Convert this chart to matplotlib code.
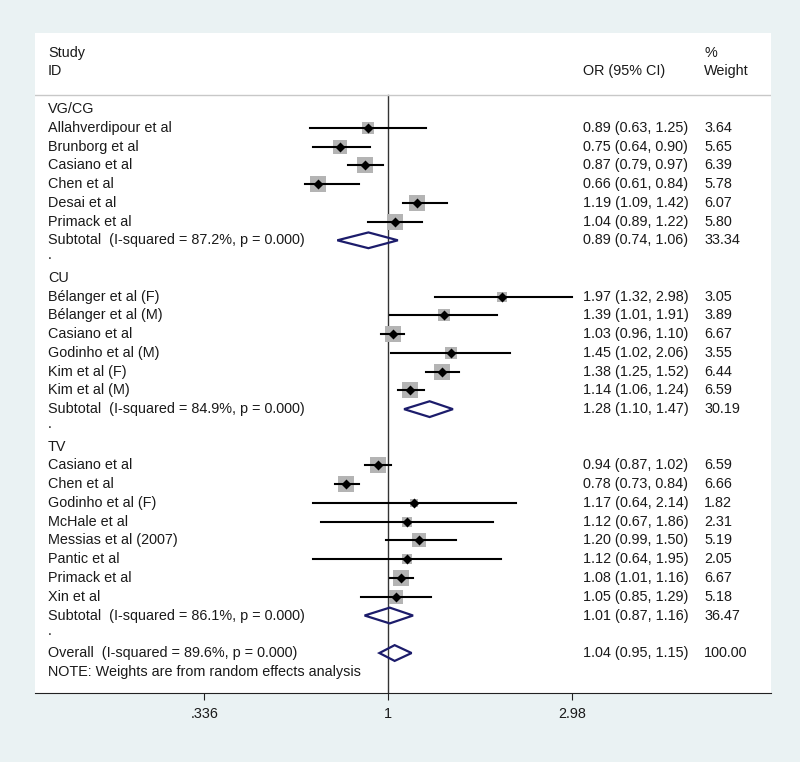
import matplotlib.pyplot as plt
import matplotlib.transforms as mtransforms
from matplotlib.patches import Polygon
import numpy as np

plt.rcParams['font.family'] = ['Liberation Sans', 'DejaVu Sans']

# VG/CG
vg_labels = ["Allahverdipour et al", "Brunborg et al", "Casiano et al", "Chen et al",
             "Desai et al", "Primack et al"]
vg_or = [0.89, 0.75, 0.87, 0.66, 1.19, 1.04]
vg_lo = [0.63, 0.64, 0.79, 0.61, 1.09, 0.89]
vg_hi = [1.25, 0.90, 0.97, 0.84, 1.42, 1.22]
vg_w = [3.64, 5.65, 6.39, 5.78, 6.07, 5.80]
vg_sub = (0.89, 0.74, 1.06, 33.34, "Subtotal  (I-squared = 87.2%, p = 0.000)")

# CU
cu_labels = ["Bélanger et al (F)", "Bélanger et al (M)", "Casiano et al",
             "Godinho et al (M)", "Kim et al (F)", "Kim et al (M)"]
cu_or = [1.97, 1.39, 1.03, 1.45, 1.38, 1.14]
cu_lo = [1.32, 1.01, 0.96, 1.02, 1.25, 1.06]
cu_hi = [2.98, 1.91, 1.10, 2.06, 1.52, 1.24]
cu_w = [3.05, 3.89, 6.67, 3.55, 6.44, 6.59]
cu_sub = (1.28, 1.10, 1.47, 30.19, "Subtotal  (I-squared = 84.9%, p = 0.000)")

# TV
tv_labels = ["Casiano et al", "Chen et al", "Godinho et al (F)", "McHale et al",
             "Messias et al (2007)", "Pantic et al", "Primack et al", "Xin et al"]
tv_or = [0.94, 0.78, 1.17, 1.12, 1.20, 1.12, 1.08, 1.05]
tv_lo = [0.87, 0.73, 0.64, 0.67, 0.99, 0.64, 1.01, 0.85]
tv_hi = [1.02, 0.84, 2.14, 1.86, 1.50, 1.95, 1.16, 1.29]
tv_w = [6.59, 6.66, 1.82, 2.31, 5.19, 2.05, 6.67, 5.18]
tv_sub = (1.01, 0.87, 1.16, 36.47, "Subtotal  (I-squared = 86.1%, p = 0.000)")

overall = (1.04, 0.95, 1.15, 100.00, "Overall  (I-squared = 89.6%, p = 0.000)")

groups = [("VG/CG", vg_labels, vg_or, vg_lo, vg_hi, vg_w, vg_sub),
          ("CU", cu_labels, cu_or, cu_lo, cu_hi, cu_w, cu_sub),
          ("TV", tv_labels, tv_or, tv_lo, tv_hi, tv_w, tv_sub)]

tick_vals = [0.336, 1, 2.98]
tick_labels = [".336", "1", "2.98"]

W, H = 800, 762
fig = plt.figure(figsize=(8, 7.62), dpi=100, facecolor="#EAF2F3")
ax = fig.add_axes([35 / W, 1 - 693 / H, 736 / W, 660 / H])
ax.set_facecolor("white")
ax.set_xscale("log")
ax.set_xlim(0.123, 9.71)
ax.set_ylim(31.13, -4.05)

tr = mtransforms.blended_transform_factory(ax.transAxes, ax.transData)
xl, xor, xw = 0.0177, 0.7446, 0.909
fs = 10.4
tc = "#1a1a1a"

def diamond(y, est, lo, hi):
    pts = [(lo, y), (est, y - 0.42), (hi, y), (est, y + 0.42)]
    ax.add_patch(Polygon(pts, closed=True, fill=False, edgecolor="#1c1c6b", lw=1.6, zorder=4))

def stats(y, est, lo, hi, w):
    ax.text(xor, y, f"{est:.2f} ({lo:.2f}, {hi:.2f})", transform=tr, va="center", fontsize=fs, color=tc)
    ax.text(xw, y, f"{w:.2f}", transform=tr, va="center", fontsize=fs, color=tc)

row = 0
for name, labels, ors, los, his, ws, sub in groups:
    ax.text(xl, row, name, transform=tr, va="center", fontsize=fs, color=tc)
    row += 1
    for lab, o, lo, hi, w in zip(labels, ors, los, his, ws):
        ax.text(xl, row, lab, transform=tr, va="center", fontsize=fs, color=tc)
        ax.plot([lo, hi], [row, row], color="black", lw=1.5, zorder=3)
        ax.scatter([o], [row], marker="s", s=20.5 * w, color="#b4b4b4", zorder=2, linewidths=0)
        ax.scatter([o], [row], marker="D", s=26, color="black", zorder=4, linewidths=0)
        stats(row, o, lo, hi, w)
        row += 1
    est, lo, hi, w, lab = sub
    ax.text(xl, row, lab, transform=tr, va="center", fontsize=fs, color=tc)
    diamond(row, est, lo, hi)
    stats(row, est, lo, hi, w)
    row += 1
    ax.text(xl, row - 0.2, ".", transform=tr, va="center", fontsize=fs, color=tc)
    row += 1

# overall follows the last spacer row
est, lo, hi, w, lab = overall
ax.text(xl, row, lab, transform=tr, va="center", fontsize=fs, color=tc)
diamond(row, est, lo, hi)
stats(row, est, lo, hi, w)
ax.text(xl, row + 1, "NOTE: Weights are from random effects analysis", transform=tr,
        va="center", fontsize=fs, color=tc)

# header
ax.text(xl, -2.98, "Study", transform=tr, va="center", fontsize=fs, color=tc)
ax.text(xl, -2.02, "ID", transform=tr, va="center", fontsize=fs, color=tc)
ax.text(xor, -2.02, "OR (95% CI)", transform=tr, va="center", fontsize=fs, color=tc)
ax.text(xw, -2.98, "%", transform=tr, va="center", fontsize=fs, color=tc)
ax.text(xw, -2.02, "Weight", transform=tr, va="center", fontsize=fs, color=tc)
ax.axhline(-0.75, color="#c8c8c8", lw=1)
ax.plot([1, 1], [-0.75, 31.13], color="#333333", lw=1, zorder=1)

for s in ["top", "left", "right"]:
    ax.spines[s].set_visible(False)
ax.spines["bottom"].set_color("#222222")
ax.set_yticks([])
ax.set_xticks(tick_vals)
ax.set_xticklabels(tick_labels, fontsize=fs, color=tc)
ax.minorticks_off()
ax.tick_params(axis="x", length=5, color="#222222", pad=5)

fig.savefig("out.png", dpi=100, facecolor=fig.get_facecolor())
